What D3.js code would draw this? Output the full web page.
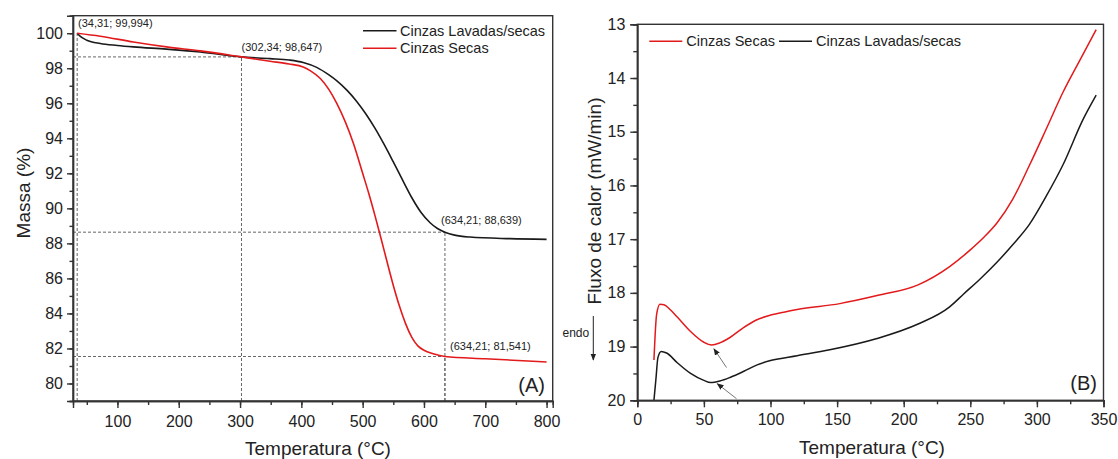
<!DOCTYPE html>
<html>
<head>
<meta charset="utf-8">
<script src="https://cdn.jsdelivr.net/npm/d3@7"></script>
<style>
  body { margin: 0; background: #fff; }
  svg text { font-family: "Liberation Sans", Arial, sans-serif; fill: #222; }
  .axis path, .axis line { stroke: #333; stroke-width: 1.4; }
  .axis text { font-size: 16px; fill: #222; }
</style>
</head>
<body>
<div id="chart"></div>
<script>
// TGA (A) - Cinzas Lavadas/secas
var lavTemp = [34.31, 40, 50, 72, 100, 126, 180, 235, 302.34, 349, 380, 403, 425, 445, 458, 475, 490, 505, 520, 535, 550, 565, 580, 595, 610, 622, 634.21, 650, 675, 740, 800];
var lavMass = [99.994, 99.8, 99.6, 99.41, 99.3, 99.22, 99.09, 98.93, 98.647, 98.55, 98.47, 98.33, 98.05, 97.62, 97.28, 96.72, 96.12, 95.4, 94.58, 93.65, 92.65, 91.62, 90.62, 89.78, 89.18, 88.85, 88.639, 88.47, 88.36, 88.27, 88.23];
// TGA (A) - Cinzas Secas
var secTemp = [34.31, 72, 126, 180, 235, 302.34, 349, 380, 403, 415, 431, 458, 485, 500, 510, 520, 530, 540, 550, 560, 570, 580, 590, 600, 615, 634.21, 700, 800];
var secMass = [100.0, 99.83, 99.5, 99.22, 98.99, 98.647, 98.4, 98.24, 98.07, 97.85, 97.41, 95.98, 93.7, 92.0, 90.85, 89.6, 88.28, 86.92, 85.6, 84.42, 83.42, 82.65, 82.15, 81.9, 81.7, 81.541, 81.41, 81.23];

// DSC (B)
var secDscTemp = [12.5, 14.5, 17, 20, 25, 30, 40, 50, 55.8, 62, 69, 79, 89, 96.5, 110, 120, 152, 180, 210.8, 234.5, 250, 260, 270, 282, 294.5, 307, 319.5, 332, 344.5];
var secDscFlux = [19.25, 18.4, 18.21, 18.22, 18.32, 18.45, 18.72, 18.92, 18.97, 18.93, 18.84, 18.66, 18.51, 18.44, 18.36, 18.31, 18.2, 18.05, 17.85, 17.51, 17.2, 16.97, 16.7, 16.25, 15.62, 14.95, 14.27, 13.68, 13.1];
var lavDscTemp = [12.5, 14, 15.5, 18, 22, 30, 40, 50, 55, 62, 70, 80, 90, 100, 120, 144.5, 180, 210.8, 234.5, 245, 257, 270, 282, 294.5, 307, 319.5, 334.5, 344.5];
var lavDscFlux = [20.0, 19.6, 19.2, 19.09, 19.12, 19.3, 19.5, 19.63, 19.67, 19.64, 19.57, 19.46, 19.34, 19.26, 19.17, 19.06, 18.85, 18.58, 18.26, 18.02, 17.75, 17.43, 17.1, 16.72, 16.2, 15.62, 14.78, 14.32];

// annotated points on (A)
var markTemp  = [34.31, 302.34, 634.21, 634.21];
var markMass  = [99.994, 98.647, 88.639, 81.541];
var markLabel = ['(34,31; 99,994)', '(302,34; 98,647)', '(634,21; 88,639)', '(634,21; 81,541)'];

var leftTicks  = [100, 200, 300, 400, 500, 600, 700, 800];
var rightTicks = [0, 50, 100, 150, 200, 250, 300, 350];

var red = '#e31a1c', black = '#1a1a1a';

var svg = d3.select('#chart').append('svg')
    .attr('width', 1118).attr('height', 459);

svg.append('defs').append('marker')
    .attr('id', 'head').attr('viewBox', '0 0 10 10')
    .attr('refX', 9).attr('refY', 5)
    .attr('markerWidth', 7).attr('markerHeight', 7)
    .attr('orient', 'auto-start-reverse')
  .append('path').attr('d', 'M0,1 L10,5 L0,9 z').attr('fill', '#222');

// ---------- panel A ----------
var xA = d3.scaleLinear().domain([27.5, 810]).range([73, 552.7]);
var yA = d3.scaleLinear().domain([79, 101]).range([401, 15.7]);

// dashed guides
var guides = svg.append('g').attr('stroke', '#555').attr('stroke-width', 0.9)
    .attr('stroke-dasharray', '3,2').attr('fill', 'none');
markTemp.forEach(function(t, i) {
    guides.append('line')
        .attr('x1', xA(t)).attr('x2', xA(t))
        .attr('y1', yA(79)).attr('y2', yA(markMass[i]));
    if (i > 0) {
        guides.append('line')
            .attr('x1', xA(27.5)).attr('x2', xA(t))
            .attr('y1', yA(markMass[i])).attr('y2', yA(markMass[i]));
    }
});

var lineA = d3.line().curve(d3.curveMonotoneX)
    .x(function(d) { return xA(d[0]); })
    .y(function(d) { return yA(d[1]); });

svg.append('path').datum(d3.zip(lavTemp, lavMass))
    .attr('d', lineA).attr('fill', 'none').attr('stroke', black).attr('stroke-width', 1.6);
svg.append('path').datum(d3.zip(secTemp, secMass))
    .attr('d', lineA).attr('fill', 'none').attr('stroke', red).attr('stroke-width', 1.6);

var labPos = [[78, 27], [241.5, 50.5], [441, 224], [450, 350]];
markLabel.forEach(function(s, i) {
    svg.append('text').attr('x', labPos[i][0]).attr('y', labPos[i][1])
        .attr('font-size', 11).attr('fill', '#333').text(s);
});

// box
svg.append('rect').attr('x', 73).attr('y', 15.7).attr('width', 552.7 - 73).attr('height', 401 - 15.7)
    .attr('fill', 'none').attr('stroke', '#333').attr('stroke-width', 1.4);

svg.append('g').attr('class', 'axis').attr('transform', 'translate(0,401)')
   .call(d3.axisBottom(xA).tickValues(d3.range(50, 801, 50)).tickSize(4).tickFormat(''));
svg.append('g').attr('class', 'axis').attr('transform', 'translate(0,401)')
   .call(d3.axisBottom(xA).tickValues(leftTicks).tickSize(7).tickPadding(7.5));
svg.append('g').attr('class', 'axis').attr('transform', 'translate(73,0)')
   .call(d3.axisLeft(yA).tickValues(d3.range(79, 101.01, 1)).tickSize(3.5).tickFormat(''));
svg.append('g').attr('class', 'axis').attr('transform', 'translate(73,0)')
   .call(d3.axisLeft(yA).tickValues(d3.range(80, 100.01, 2)).tickSize(6).tickPadding(4));

svg.append('text').attr('transform', 'translate(30,193) rotate(-90)')
    .attr('text-anchor', 'middle').attr('font-size', 19).text('Massa (%)');
svg.append('text').attr('x', 318).attr('y', 455)
    .attr('text-anchor', 'middle').attr('font-size', 19).text('Temperatura (°C)');
svg.append('text').attr('x', 545).attr('y', 391.5)
    .attr('text-anchor', 'end').attr('font-size', 20).text('(A)');

// legend A
var legA = [['Cinzas Lavadas/secas', black], ['Cinzas Secas', red]];
legA.forEach(function(d, i) {
    var y = 30.7 + i * 17.6;
    svg.append('line').attr('x1', 363).attr('x2', 396.5).attr('y1', y).attr('y2', y)
        .attr('stroke', d[1]).attr('stroke-width', 1.6);
    svg.append('text').attr('x', 400).attr('y', y + 5).attr('font-size', 14.5).text(d[0]);
});

// ---------- panel B ----------
var xB = d3.scaleLinear().domain([0, 350]).range([637.3, 1103.5]);
var yB = d3.scaleLinear().domain([13, 20]).range([24.3, 400.3]);

var lineB = d3.line().curve(d3.curveMonotoneX)
    .x(function(d) { return xB(d[0]); })
    .y(function(d) { return yB(d[1]); });

svg.append('path').datum(d3.zip(secDscTemp, secDscFlux))
    .attr('d', lineB).attr('fill', 'none').attr('stroke', red).attr('stroke-width', 1.5);
svg.append('path').datum(d3.zip(lavDscTemp, lavDscFlux))
    .attr('d', lineB).attr('fill', 'none').attr('stroke', black).attr('stroke-width', 1.5);

// arrows pointing at the DSC minima
var arrowFrom = [[67, 19.39], [74.5, 19.97]];
var arrowTo   = [[57.5, 19.04], [60, 19.69]];
arrowFrom.forEach(function(f, i) {
    svg.append('line')
        .attr('x1', xB(f[0])).attr('y1', yB(f[1]))
        .attr('x2', xB(arrowTo[i][0])).attr('y2', yB(arrowTo[i][1]))
        .attr('stroke', '#777').attr('stroke-width', 1).attr('marker-end', 'url(#head)');
});

svg.append('rect').attr('x', 637.3).attr('y', 24.3).attr('width', 1103.5 - 637.3).attr('height', 400.3 - 24.3)
    .attr('fill', 'none').attr('stroke', '#333').attr('stroke-width', 1.4);

svg.append('g').attr('class', 'axis').attr('transform', 'translate(0,400.3)')
   .call(d3.axisBottom(xB).tickValues(d3.range(0, 351, 25)).tickSize(4).tickFormat(''));
svg.append('g').attr('class', 'axis').attr('transform', 'translate(0,400.3)')
   .call(d3.axisBottom(xB).tickValues(rightTicks).tickSize(7).tickPadding(6.5));
svg.append('g').attr('class', 'axis').attr('transform', 'translate(637.3,0)')
   .call(d3.axisLeft(yB).tickValues(d3.range(13, 20.01, 0.5)).tickSize(4).tickFormat(''));
svg.append('g').attr('class', 'axis').attr('transform', 'translate(637.3,0)')
   .call(d3.axisLeft(yB).tickValues(d3.range(13, 20.01, 1)).tickSize(7).tickPadding(5)
   .tickFormat(d3.format('d')));

svg.append('text').attr('transform', 'translate(601,201) rotate(-90)')
    .attr('text-anchor', 'middle').attr('font-size', 19).text('Fluxo de calor (mW/min)');
svg.append('text').attr('x', 872).attr('y', 454)
    .attr('text-anchor', 'middle').attr('font-size', 19).text('Temperatura (°C)');
svg.append('text').attr('x', 1097).attr('y', 390)
    .attr('text-anchor', 'end').attr('font-size', 20).text('(B)');

// endo marker
svg.append('text').attr('x', 562.5).attr('y', 336.5).attr('font-size', 12).text('endo');
svg.append('line').attr('x1', 593.3).attr('x2', 593.3).attr('y1', 316).attr('y2', 360)
    .attr('stroke', '#222').attr('stroke-width', 1).attr('marker-end', 'url(#head)');

// legend B
var legB = [['Cinzas Secas', red, 649.3], ['Cinzas Lavadas/secas', black, 779]];
legB.forEach(function(d) {
    svg.append('line').attr('x1', d[2]).attr('x2', d[2] + 33).attr('y1', 41.3).attr('y2', 41.3)
        .attr('stroke', d[1]).attr('stroke-width', 1.5);
    svg.append('text').attr('x', d[2] + 37).attr('y', 46.3).attr('font-size', 14.5).text(d[0]);
});
</script>
</body>
</html>
